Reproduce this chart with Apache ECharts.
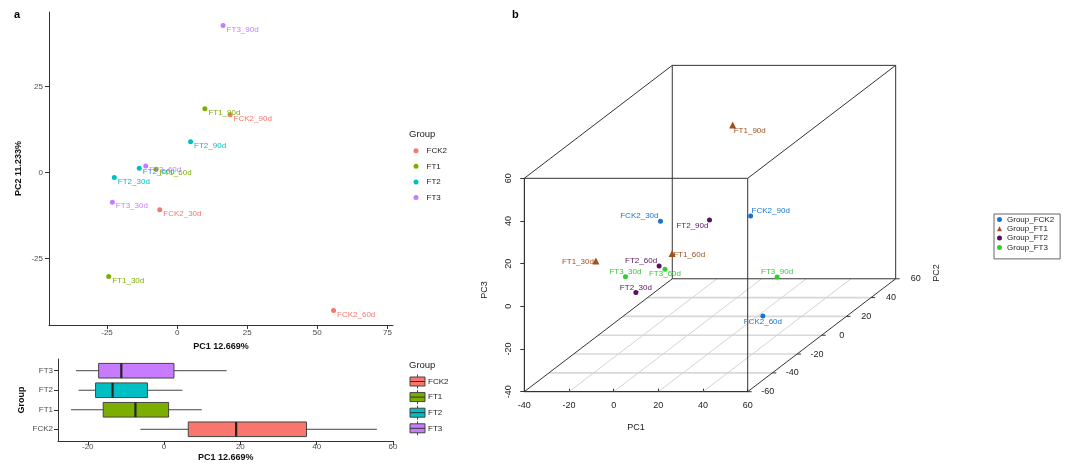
<!DOCTYPE html>
<html>
<head>
<meta charset="utf-8">
<script src="https://cdn.jsdelivr.net/npm/echarts@6/dist/echarts.min.js"></script>
<style>
  html, body { margin: 0; background: #fff; }
  #main { width: 1072px; height: 466px; }
</style>
</head>
<body>
<div id="main"></div>
<script>
  // samples and PCA scores
  const samples = ['FCK2_30d', 'FCK2_60d', 'FCK2_90d', 'FT1_30d', 'FT1_60d', 'FT1_90d',
                   'FT2_30d', 'FT2_60d', 'FT2_90d', 'FT3_30d', 'FT3_60d', 'FT3_90d'];
  const sampleGroup = ['FCK2', 'FCK2', 'FCK2', 'FT1', 'FT1', 'FT1', 'FT2', 'FT2', 'FT2', 'FT3', 'FT3', 'FT3'];
  const groups = ['FCK2', 'FT1', 'FT2', 'FT3'];
  const pc1 = [-6.2, 55.8, 18.9, -24.4, -7.5, 9.9, -22.4, -13.5, 4.8, -23.1, -11.2, 16.4];
  const pc2 = [-10.8, -40.1, 16.8, -30.2, 1.0, 18.6, -1.4, 1.3, 9.0, -8.6, 1.9, 42.8];
  const pc3 = [18.2, -13.3, 8.5, 8.1, -2.1, 50.3, -19.3, -8.1, 10.0, -8.8, -9.9, -31.6];

  // tick labels
  const scatterXTicks = [-25, 0, 25, 50, 75];
  const scatterYTicks = [-25, 0, 25];
  const boxXTicks = [-20, 0, 20, 40, 60];
  const cubeTicks1 = [-40, -20, 0, 20, 40, 60];
  const cubeTicks2 = [-60, -40, -20, 0, 20, 40, 60];
  const cubeTicks3 = [-40, -20, 0, 20, 40, 60];

  const colorsA = ['#F8766D', '#7CAE00', '#00BFC4', '#C77CFF'];
  const colorsB = ['#1874CD', '#A0501A', '#5A1060', '#33CC33'];
  const symbolsB = ['circle', 'triangle', 'circle', 'circle'];

  // label placement in the 3d panel: [dx, dy, align]
  const labelB = {
    FCK2_30d: [-2, -5, 'right'], FCK2_60d: [0, 6, 'center'], FCK2_90d: [1, -5, 'left'],
    FT1_30d: [-2, 1, 'right'], FT1_60d: [1, 1, 'left'], FT1_90d: [1, 6, 'left'],
    FT2_30d: [0, -5, 'center'], FT2_60d: [-2, -5, 'right'], FT2_90d: [-1, 6, 'right'],
    FT3_30d: [0, -5, 'center'], FT3_60d: [0, 5, 'center'], FT3_90d: [0, -5, 'center']
  };

  // oblique projection of PC2 onto the PC1/PC3 front face
  const KX = 0.552, KY = 0.441, PC2_MIN = -60;
  function proj(a, b, c) {
    return [a + (b - PC2_MIN) * KX, c + (b - PC2_MIN) * KY];
  }

  function quantile(arr, p) {
    const s = arr.slice().sort((a, b) => a - b);
    const h = (s.length - 1) * p, lo = Math.floor(h);
    return s[lo] + (h - lo) * ((s[lo + 1] !== undefined ? s[lo + 1] : s[lo]) - s[lo]);
  }

  const font = 'Liberation Sans, Arial, sans-serif';
  const chart = echarts.init(document.getElementById('main'));

  // panel a scatter series
  const scatterA = groups.map((g, gi) => ({
    type: 'scatter',
    name: g,
    xAxisIndex: 0, yAxisIndex: 0,
    symbolSize: 5,
    itemStyle: { color: colorsA[gi], opacity: 1 },
    label: {
      show: true, position: 'right', distance: 1, offset: [0, 4],
      fontSize: 8, color: colorsA[gi],
      formatter: p => p.data[2]
    },
    data: samples.map((s, i) => [pc1[i], pc2[i], s]).filter((d, i) => sampleGroup[i] === g),
    z: 3
  }));

  // box statistics from PC1
  const boxData = groups.map((g, gi) => {
    const v = pc1.filter((d, i) => sampleGroup[i] === g);
    return [gi + 1, quantile(v, 0), quantile(v, 0.25), quantile(v, 0.5), quantile(v, 0.75), quantile(v, 1)];
  });

  const boxSeries = {
    type: 'custom',
    xAxisIndex: 1, yAxisIndex: 1,
    encode: { x: [1, 2, 3, 4, 5], y: 0 },
    data: boxData,
    renderItem: function (params, api) {
      const y = api.value(0);
      const pMin = api.coord([api.value(1), y]);
      const pQ1 = api.coord([api.value(2), y]);
      const pMed = api.coord([api.value(3), y]);
      const pQ3 = api.coord([api.value(4), y]);
      const pMax = api.coord([api.value(5), y]);
      const h = api.size([0, 0.75])[1];
      const line = { stroke: '#444', lineWidth: 1 };
      return {
        type: 'group',
        children: [
          { type: 'line', shape: { x1: pMin[0], y1: pMin[1], x2: pQ1[0], y2: pQ1[1] }, style: line },
          { type: 'line', shape: { x1: pQ3[0], y1: pQ3[1], x2: pMax[0], y2: pMax[1] }, style: line },
          { type: 'rect', shape: { x: pQ1[0], y: pQ1[1] - h / 2, width: pQ3[0] - pQ1[0], height: h },
            style: { fill: colorsA[params.dataIndex], stroke: '#444', lineWidth: 1 } },
          { type: 'line', shape: { x1: pMed[0], y1: pMed[1] - h / 2, x2: pMed[0], y2: pMed[1] + h / 2 },
            style: { stroke: '#222', lineWidth: 2.2 } }
        ]
      };
    }
  };

  // cube frame, floor grid and PC2 axis
  const cubeSeries = {
    type: 'custom',
    xAxisIndex: 2, yAxisIndex: 2,
    silent: true,
    data: [[0, 0]],
    z: 1,
    renderItem: function (params, api) {
      const c = (a, b, d) => api.coord(proj(a, b, d));
      const kids = [];
      const seg = (p, q, style) => kids.push({ type: 'line', shape: { x1: p[0], y1: p[1], x2: q[0], y2: q[1] }, style: style });
      const lo1 = cubeTicks1[0], hi1 = cubeTicks1[cubeTicks1.length - 1];
      const lo2 = cubeTicks2[0], hi2 = cubeTicks2[cubeTicks2.length - 1];
      const lo3 = cubeTicks3[0], hi3 = cubeTicks3[cubeTicks3.length - 1];
      const grid = { stroke: '#d4d4d4', lineWidth: 1 };
      cubeTicks2.slice(1, -1).forEach(v => seg(c(lo1, v, lo3), c(hi1, v, lo3), { stroke: '#d8d8d8', lineWidth: 1.6 }));
      cubeTicks1.slice(1, -1).forEach(u => seg(c(u, lo2, lo3), c(u, hi2, lo3), grid));
      const edge = { stroke: '#333', lineWidth: 1 };
      const corners = [];
      [lo1, hi1].forEach(a => [lo2, hi2].forEach(b => [lo3, hi3].forEach(d => corners.push([a, b, d]))));
      for (let i = 0; i < corners.length; i++) {
        for (let j = i + 1; j < corners.length; j++) {
          const diff = corners[i].filter((v, k) => v !== corners[j][k]).length;
          if (diff === 1) seg(c.apply(null, corners[i]), c.apply(null, corners[j]), edge);
        }
      }
      cubeTicks2.forEach(v => {
        const p = c(hi1, v, lo3);
        seg(p, [p[0] + 4, p[1]], edge);
        kids.push({ type: 'text', x: p[0] + 20, y: p[1],
          style: { text: String(v), fontSize: 9, fill: '#222', align: 'center', verticalAlign: 'middle', fontFamily: font } });
      });
      return { type: 'group', children: kids };
    }
  };

  // panel b scatter series
  const scatterB = groups.map((g, gi) => ({
    type: 'scatter',
    name: 'Group_' + g,
    xAxisIndex: 2, yAxisIndex: 2,
    symbol: symbolsB[gi],
    symbolSize: symbolsB[gi] === 'triangle' ? 7 : 5,
    clip: false,
    itemStyle: { color: colorsB[gi], opacity: 1 },
    z: 4,
    data: samples.map((s, i) => {
      const p = proj(pc1[i], pc2[i], pc3[i]);
      const lb = labelB[s];
      return {
        value: [p[0], p[1], s],
        label: { offset: [lb[0], lb[1]], align: lb[2] }
      };
    }).filter((d, i) => sampleGroup[i] === g),
    label: {
      show: true, position: 'inside', fontSize: 8, color: colorsB[gi],
      formatter: p => p.data.value[2]
    }
  }));

  // box legend drawn as graphic
  const boxLegend = [{ type: 'text', left: 409, top: 360, style: { text: 'Group', fontSize: 9.5, fill: '#222', fontFamily: font } }];
  groups.forEach((g, gi) => {
    const cy = 381.5 + gi * 15.6;
    boxLegend.push(
      { type: 'line', shape: { x1: 417.5, y1: cy - 7, x2: 417.5, y2: cy + 7 }, style: { stroke: '#444', lineWidth: 1 } },
      { type: 'rect', shape: { x: 410, y: cy - 4.5, width: 15, height: 9 }, style: { fill: colorsA[gi], stroke: '#444', lineWidth: 1 } },
      { type: 'line', shape: { x1: 410, y1: cy, x2: 425, y2: cy }, style: { stroke: '#333', lineWidth: 1 } },
      { type: 'text', x: 428, y: cy, style: { text: g, fontSize: 8, fill: '#222', verticalAlign: 'middle', fontFamily: font } }
    );
  });

  const axisA = {
    axisLine: { show: true, onZero: false, lineStyle: { color: '#333', width: 1 } },
    axisTick: { show: true, length: 4, lineStyle: { color: '#333' } },
    splitLine: { show: false },
    nameTextStyle: { fontSize: 9, fontWeight: 'bold', color: '#111' }
  };

  const option = {
    backgroundColor: '#fff',
    animation: false,
    textStyle: { fontFamily: font },
    grid: [
      { left: 49, top: 12, width: 344, height: 313 },
      { left: 58, top: 359, width: 335.3, height: 82 },
      { left: 524.3, top: 178.3, width: 223.4, height: 213.4 }
    ],
    xAxis: [
      Object.assign({}, axisA, {
        gridIndex: 0, type: 'value', min: -45.7, max: 77,
        name: 'PC1 12.669%', nameLocation: 'middle', nameGap: 15,
        axisTick: Object.assign({}, axisA.axisTick, { customValues: scatterXTicks }),
        axisLabel: { customValues: scatterXTicks, fontSize: 8, color: '#4d4d4d', margin: 4 }
      }),
      Object.assign({}, axisA, {
        gridIndex: 1, type: 'value', min: -27.8, max: 60.1,
        name: 'PC1 12.669%', nameLocation: 'middle', nameGap: 12,
        axisTick: Object.assign({}, axisA.axisTick, { customValues: boxXTicks }),
        axisLabel: { customValues: boxXTicks, fontSize: 8, color: '#4d4d4d', margin: 2 }
      }),
      {
        gridIndex: 2, type: 'value', min: -40, max: 60, interval: 20,
        name: 'PC1', nameLocation: 'middle', nameGap: 31,
        nameTextStyle: { fontSize: 9, color: '#222' },
        axisLine: { show: true, onZero: false, lineStyle: { color: '#333', width: 1 } },
        axisTick: { show: true, inside: true, length: 3, lineStyle: { color: '#333' } },
        axisLabel: { fontSize: 9, color: '#222', margin: 9 },
        splitLine: { show: false }
      }
    ],
    yAxis: [
      Object.assign({}, axisA, {
        gridIndex: 0, type: 'value', min: -44.3, max: 46.7,
        name: 'PC2 11.233%', nameLocation: 'middle', nameGap: 26,
        axisTick: Object.assign({}, axisA.axisTick, { customValues: scatterYTicks }),
        axisLabel: { customValues: scatterYTicks, fontSize: 8, color: '#4d4d4d', margin: 6 }
      }),
      Object.assign({}, axisA, {
        gridIndex: 1, type: 'value', min: 0.4, max: 4.6,
        name: 'Group', nameLocation: 'middle', nameGap: 32,
        axisTick: Object.assign({}, axisA.axisTick, { customValues: [1, 2, 3, 4] }),
        axisLabel: { customValues: [1, 2, 3, 4], fontSize: 8, color: '#4d4d4d', margin: 5,
                     formatter: v => groups[Math.round(v) - 1] }
      }),
      {
        gridIndex: 2, type: 'value', min: -40, max: 60, interval: 20,
        axisLine: { show: true, onZero: false, lineStyle: { color: '#333', width: 1 } },
        axisTick: { show: true, length: 4, lineStyle: { color: '#333' } },
        axisLabel: { fontSize: 9, color: '#222', margin: 11, rotate: 90 },
        splitLine: { show: false }
      }
    ],
    legend: [
      {
        data: groups, orient: 'vertical', left: 413.5, top: 145.7, padding: 0,
        icon: 'circle', itemWidth: 5, itemHeight: 5, itemGap: 5.6,
        textStyle: { fontSize: 8, color: '#222', lineHeight: 10, padding: [0, 0, 0, 3] },
        selectedMode: false
      },
      {
        data: groups.map((g, gi) => ({ name: 'Group_' + g, icon: symbolsB[gi] })),
        orient: 'vertical', left: 994, top: 214,
        itemWidth: 5, itemHeight: 5, itemGap: 0.3,
        padding: [1, 6, 7, 3],
        borderColor: '#666', borderWidth: 1,
        textStyle: { fontSize: 8, color: '#222', lineHeight: 9 },
        selectedMode: false
      }
    ],
    graphic: [
      { type: 'text', left: 14, top: 9, style: { text: 'a', fontSize: 11, fontWeight: 'bold', fill: '#000', fontFamily: font } },
      { type: 'text', left: 512, top: 9, style: { text: 'b', fontSize: 11, fontWeight: 'bold', fill: '#000', fontFamily: font } },
      { type: 'text', left: 409, top: 129, style: { text: 'Group', fontSize: 9.5, fill: '#222', fontFamily: font } },
      { type: 'text', x: 485, y: 290, rotation: Math.PI / 2,
        style: { text: 'PC3', fontSize: 9, fill: '#222', align: 'center', verticalAlign: 'middle', fontFamily: font } },
      { type: 'text', x: 937, y: 273, rotation: Math.PI / 2,
        style: { text: 'PC2', fontSize: 9, fill: '#222', align: 'center', verticalAlign: 'middle', fontFamily: font } }
    ].concat(boxLegend),
    series: scatterA.concat([boxSeries, cubeSeries]).concat(scatterB)
  };

  chart.setOption(option);
</script>
</body>
</html>
